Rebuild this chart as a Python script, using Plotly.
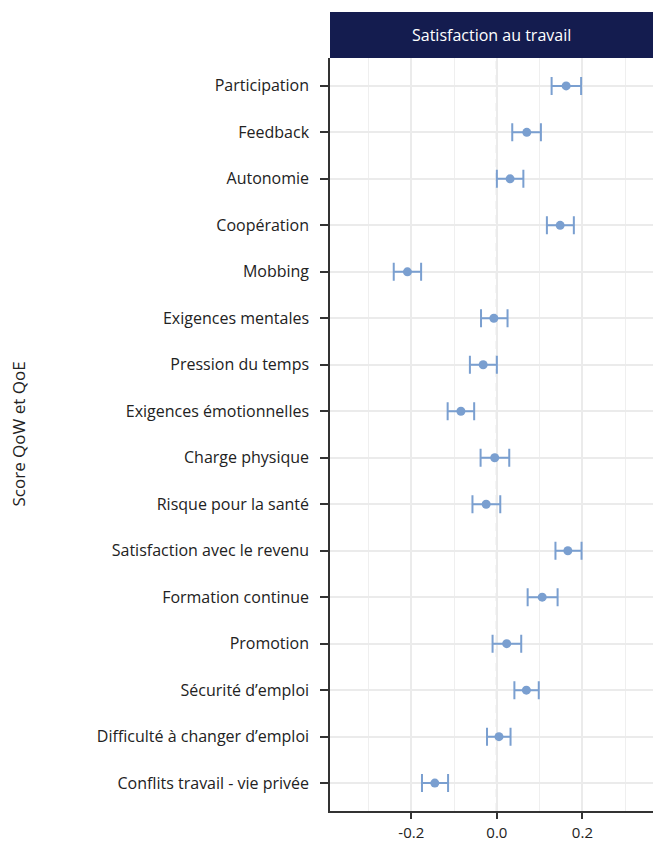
import plotly.graph_objects as go

categories = ["Participation", "Feedback", "Autonomie", "Coopération", "Mobbing",
              "Exigences mentales", "Pression du temps", "Exigences émotionnelles",
              "Charge physique", "Risque pour la santé", "Satisfaction avec le revenu",
              "Formation continue", "Promotion", "Sécurité d’emploi",
              "Difficulté à changer d’emploi", "Conflits travail - vie privée"]
estimate = [0.162, 0.070, 0.031, 0.148, -0.209, -0.007, -0.032, -0.084,
            -0.005, -0.025, 0.166, 0.106, 0.023, 0.069, 0.005, -0.145]
ci_low = [0.128, 0.036, 0.000, 0.117, -0.241, -0.037, -0.063, -0.115,
          -0.038, -0.057, 0.137, 0.072, -0.010, 0.041, -0.023, -0.175]
ci_high = [0.197, 0.103, 0.062, 0.180, -0.177, 0.025, 0.000, -0.053,
           0.029, 0.008, 0.198, 0.142, 0.057, 0.098, 0.032, -0.114]
panel_title = "Satisfaction au travail"
y_title = "Score QoW et QoE"
x_ticks = [-0.2, 0.0, 0.2]
x_tick_labels = ["-0.2", "0.0", "0.2"]

color = "#7A9FD0"
FONT = "Open Sans"

fig = go.Figure()
fig.add_trace(go.Scatter(
    x=estimate, y=categories, mode="markers",
    marker=dict(color=color, size=9),
    error_x=dict(type="data", symmetric=False,
                 array=[h - e for h, e in zip(ci_high, estimate)],
                 arrayminus=[e - l for l, e in zip(ci_low, estimate)],
                 color=color, thickness=2, width=9),
    showlegend=False, cliponaxis=False,
))

fig.add_vline(x=0, line=dict(color="#BBBBBB", width=2, dash="8px,6px"), layer="below")

n = len(categories)
fig.update_layout(
    width=653, height=841,
    margin=dict(l=330, r=0, t=58, b=30, autoexpand=False),
    paper_bgcolor="white", plot_bgcolor="white",
    font=dict(family=FONT, color="#222222", size=16),
    xaxis=dict(range=[-0.39, 0.365], tickvals=x_ticks, ticktext=x_tick_labels,
               automargin=False,
               showgrid=True, gridcolor="#EBEBEB", gridwidth=2,
               minor=dict(tickvals=[-0.3, -0.1, 0.1, 0.3], showgrid=True,
                          gridcolor="#EFEFEF", gridwidth=1.3),
               zeroline=False, showline=True, linecolor="#333333", linewidth=1.5,
               ticks="outside", ticklen=6, tickwidth=2, tickcolor="#333333",
               ticklabelstandoff=1,
               tickfont=dict(size=15, color="#222222")),
    yaxis=dict(categoryorder="array", categoryarray=categories,
               range=[n - 1 + 0.6, -0.6], automargin=False,
               showgrid=True, gridcolor="#EBEBEB", gridwidth=2,
               zeroline=False, showline=True, linecolor="#333333", linewidth=1.5,
               ticks="outside", ticklen=8, tickwidth=2, tickcolor="#333333",
               ticklabelstandoff=8,
               tickfont=dict(size=16, color="#222222")),
)

fig.add_shape(type="rect", xref="paper", yref="paper", x0=0, x1=1, y0=1, y1=1 + 46 / 753,
              fillcolor="#141C4F", line=dict(width=0), layer="above")
fig.add_annotation(text=panel_title, xref="paper", yref="paper", x=0.5, y=1 + 23 / 753,
                   showarrow=False, font=dict(color="white", size=16, family=FONT),
                   xanchor="center", yanchor="middle")
fig.add_annotation(text=y_title, xref="paper", yref="paper", x=(18 - 330) / 323, y=0.5,
                   textangle=-90, showarrow=False, xanchor="center", yanchor="middle",
                   font=dict(size=17, color="#222222", family=FONT))

fig.write_html("out.html", config={"displayModeBar": False},
               post_script="document.body.style.margin='0';")
